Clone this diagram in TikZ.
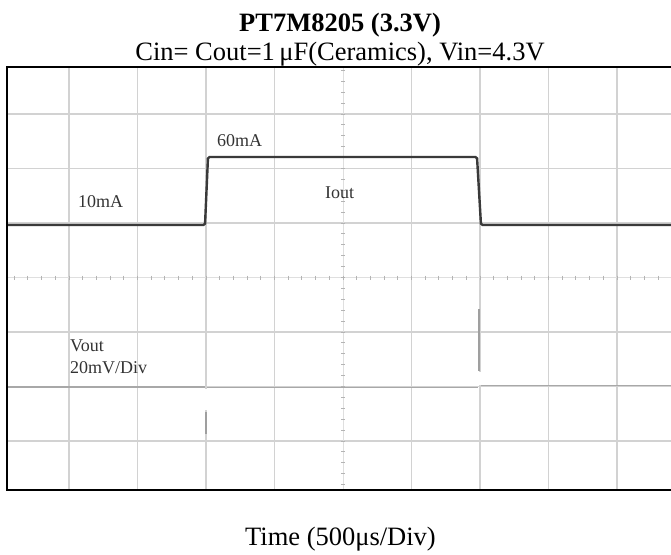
\documentclass[tikz,border=0pt]{standalone}
\usepackage{fontspec}
\setmainfont{Liberation Serif}
\definecolor{gridgray}{HTML}{D2D2D2}
\definecolor{tickgray}{HTML}{B4B4B4}
\definecolor{tracedark}{HTML}{3A3A3A}
\definecolor{tracelight}{HTML}{A8A8A8}
\definecolor{labelgray}{HTML}{333333}
\begin{document}
\begin{tikzpicture}[x=1pt,y=-1pt,
  gridline/.style={draw=gridgray,line width=1.6pt},
  axisline/.style={draw=gridgray!70,line width=0.8pt},
  tickmark/.style={draw=tickgray,line width=1pt},
  ioutline/.style={draw=tracedark,line width=2.4pt,rounded corners=1.5pt},
  voutline/.style={draw=tracelight,line width=1.6pt},
  spikeline/.style={draw=tracelight!120!black!0,draw=gray!75,line width=1.5pt},
  gapline/.style={draw=white,line width=2.6pt},
  frameline/.style={draw=black,line width=2.3pt},
  lbl/.style={font=\fontsize{18}{20}\selectfont,text=labelgray,inner sep=0pt},
  bigtxt/.style={font=\fontsize{26.5}{30}\selectfont,inner sep=0pt}]
\useasboundingbox (0,0) rectangle (671,554);
% grid
\foreach \x in {69,137.5,206,274.5,411.5,480,548.5,617}
  \draw[gridline] (\x,67) -- (\x,490);
\foreach \y in {114,168.5,223,332,386.5,441}
  \draw[gridline] (7,\y) -- (673,\y);
% centre axes with ticks
\draw[axisline] (343,67) -- (343,490);
\draw[axisline] (7,277.5) -- (673,277.5);
\foreach \i in {-24,...,23}
  \draw[tickmark] ({343+\i*13.7},275.5) -- ++(0,4);
\foreach \i in {-19,...,19}
  \draw[tickmark] (341,{277.5+\i*10.9}) -- ++(4,0);
% Iout trace
\draw[ioutline] (7,225) -- (205,225) -- (208,157) -- (477,157) -- (481,225) -- (673,225);
% Vout trace
\draw[voutline] (7,387) -- (205,387);
\draw[voutline] (207,387.5) -- (478,387.5);
\draw[voutline] (481,385.5) -- (673,385.5);
\draw[gapline] (206,389) -- (206,410);
\draw[spikeline] (206,412) -- (206,434);
\draw[gapline] (480,372) -- (480,384.5);
\draw[spikeline] (479,309) -- (479,371);
% frame
\draw[frameline] (7,67) rectangle (674,490);
% labels
\node[lbl,anchor=base west] (l60) at (217,146) {60mA};
\node[lbl,anchor=base west] (l10) at (78,207) {10mA};
\node[lbl,anchor=base west] (liout) at (325,198) {Iout};
\node[lbl,anchor=base west] (lvout) at (70,351) {Vout};
\node[lbl,anchor=base west] (ldiv) at (70,373) {20mV/Div};
% titles
\node[bigtxt,anchor=base] (title) at (340,31.5) {\bfseries PT7M8205 (3.3V)};
\node[bigtxt,anchor=base] (sub) at (340,60) {Cin= Cout=1\,μF(Ceramics), Vin=4.3V};
\node[bigtxt,anchor=base] (time) at (340.5,545) {Time (500μs/Div)};
\end{tikzpicture}
\end{document}
